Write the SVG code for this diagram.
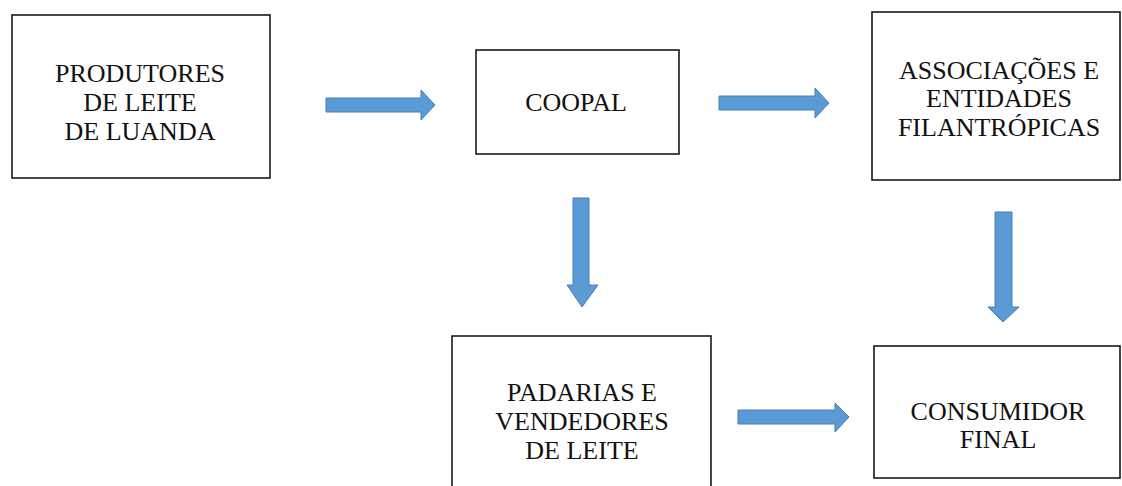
<svg xmlns="http://www.w3.org/2000/svg" width="1122" height="486" viewBox="0 0 1122 486">
<style>
.box{fill:#fff;stroke:#1a1a1a;stroke-width:1.6}
text{font-family:'Liberation Serif','Times New Roman','DejaVu Serif',serif;font-size:26px;fill:#111;text-anchor:middle}
.arr{fill:#5b9bd5;stroke:#4a7fb5;stroke-width:1}
</style>
<rect width="1122" height="486" fill="#fff"/>
<g id="connectors">
<path class="arr" d="M326,98 H421 V90 L435,105 L421,120 V112 H326 Z"/>
<path class="arr" d="M719,96 H815 V88 L829,103 L815,118 V110 H719 Z"/>
<path class="arr" d="M573,198 V285 H567 L582,307 L598,285 H589 V198 Z"/>
<path class="arr" d="M995,212 V307 H988 L1003,322 L1019,307 H1012 V212 Z"/>
<path class="arr" d="M738,410 H835 V403 L849,417 L835,432 V424 H738 Z"/>
</g>
<g id="produtores">
<rect class="box" x="12" y="15" width="258" height="163"/>
<text x="140" y="82" font-family="Liberation Serif">PRODUTORES</text>
<text x="140" y="111" font-family="Liberation Serif">DE LEITE</text>
<text x="140" y="140" font-family="Liberation Serif">DE LUANDA</text>
</g>
<g id="coopal">
<rect class="box" x="476" y="50" width="203" height="104"/>
<text x="576" y="111" font-family="Liberation Serif">COOPAL</text>
</g>
<g id="associacoes">
<rect class="box" x="872" y="12" width="248" height="168"/>
<text x="999" y="79" font-family="Liberation Serif">ASSOCIAÇÕES E</text>
<text x="999" y="107" font-family="Liberation Serif">ENTIDADES</text>
<text x="999" y="136" font-family="Liberation Serif">FILANTRÓPICAS</text>
</g>
<g id="padarias">
<rect class="box" x="452" y="336" width="259" height="170"/>
<text x="582" y="401" font-family="Liberation Serif">PADARIAS E</text>
<text x="582" y="430" font-family="Liberation Serif">VENDEDORES</text>
<text x="582" y="459" font-family="Liberation Serif">DE LEITE</text>
</g>
<g id="consumidor">
<rect class="box" x="874" y="346" width="246" height="132"/>
<text x="998" y="420" font-family="Liberation Serif">CONSUMIDOR</text>
<text x="998" y="448" font-family="Liberation Serif">FINAL</text>
</g>
</svg>
